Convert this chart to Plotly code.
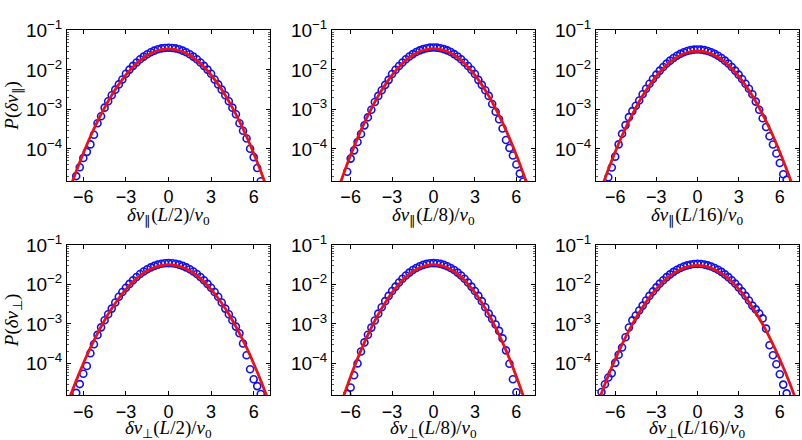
import plotly.graph_objects as go

# ---------------- data ----------------
x_bins = [-7.0, -6.75, -6.5, -6.25, -6.0, -5.75, -5.5, -5.25, -5.0, -4.75, -4.5, -4.25,
          -4.0, -3.75, -3.5, -3.25, -3.0, -2.75, -2.5, -2.25, -2.0, -1.75, -1.5, -1.25,
          -1.0, -0.75, -0.5, -0.25, 0.0, 0.25, 0.5, 0.75, 1.0, 1.25, 1.5, 1.75, 2.0,
          2.25, 2.5, 2.75, 3.0, 3.25, 3.5, 3.75, 4.0, 4.25, 4.5, 4.75, 5.0, 5.25, 5.5,
          5.75, 6.0, 6.25, 6.5]

x_fit = [-7.5, -7.0, -6.5, -6.0, -5.5, -5.0, -4.5, -4.0, -3.5, -3.0, -2.5, -2.0, -1.5,
         -1.0, -0.5, 0.0, 0.5, 1.0, 1.5, 2.0, 2.5, 3.0, 3.5, 4.0, 4.5, 5.0, 5.5, 6.0,
         6.5, 7.0, 7.5]

# P(dv_par), L/2
par_L2_pts = [None, None, 2.05e-5, 3.44e-5, 5.90e-5, 8.43e-5, 1.30e-4, 2.29e-4, 4.45e-4,
              6.71e-4, 1.11e-3, 1.61e-3, 2.29e-3, 3.17e-3, 4.31e-3, 5.73e-3, 7.98e-3,
              1.02e-2, 1.27e-2, 1.55e-2, 1.86e-2, 2.18e-2, 2.50e-2, 2.81e-2, 3.08e-2,
              3.33e-2, 3.51e-2, 3.61e-2, 3.66e-2, 3.61e-2, 3.51e-2, 3.33e-2, 3.08e-2,
              2.81e-2, 2.50e-2, 2.18e-2, 1.86e-2, 1.55e-2, 1.27e-2, 1.02e-2, 7.98e-3,
              5.73e-3, 4.31e-3, 3.17e-3, 2.29e-3, 1.61e-3, 1.11e-3, 7.53e-4, 4.45e-4,
              2.88e-4, 1.83e-4, 1.01e-4, 6.18e-5, 3.28e-5, 1.52e-5]
par_L2_fit = [2.54e-6, 8.63e-6, 2.70e-5, 7.78e-5, 2.06e-4, 4.99e-4, 1.11e-3, 2.29e-3,
              4.31e-3, 7.45e-3, 1.186e-2, 1.73e-2, 2.33e-2, 2.88e-2, 3.27e-2, 3.41e-2,
              3.27e-2, 2.88e-2, 2.33e-2, 1.73e-2, 1.186e-2, 7.45e-3, 4.31e-3, 2.29e-3,
              1.11e-3, 4.99e-4, 2.06e-4, 7.78e-5, 2.70e-5, 8.63e-6, 2.54e-6]

# P(dv_par), L/8
par_L8_pts = [None, None, None, 2.65e-5, 5.68e-5, 9.20e-5, 1.49e-4, 2.38e-4, 3.95e-4,
              6.31e-4, 9.84e-4, 1.54e-3, 2.20e-3, 3.07e-3, 4.19e-3, 5.61e-3, 7.87e-3,
              1.01e-2, 1.26e-2, 1.55e-2, 1.86e-2, 2.19e-2, 2.52e-2, 2.84e-2, 3.13e-2,
              3.37e-2, 3.56e-2, 3.67e-2, 3.72e-2, 3.67e-2, 3.56e-2, 3.37e-2, 3.13e-2,
              2.84e-2, 2.52e-2, 2.19e-2, 1.86e-2, 1.55e-2, 1.26e-2, 1.01e-2, 7.87e-3,
              5.61e-3, 4.19e-3, 3.07e-3, 2.20e-3, 1.37e-3, 8.77e-4, 5.62e-4, 3.29e-4,
              1.68e-4, 1.06e-4, 6.82e-5, 4.02e-5, 2.37e-5, 1.50e-5]
par_L8_fit = [2.12e-6, 7.41e-6, 2.37e-5, 6.98e-5, 1.88e-4, 4.65e-4, 1.05e-3, 2.20e-3,
              4.19e-3, 7.35e-3, 1.18e-2, 1.74e-2, 2.35e-2, 2.92e-2, 3.32e-2, 3.47e-2,
              3.32e-2, 2.92e-2, 2.35e-2, 1.74e-2, 1.18e-2, 7.35e-3, 4.19e-3, 2.20e-3,
              1.05e-3, 4.65e-4, 1.88e-4, 6.98e-5, 2.37e-5, 7.41e-6, 2.12e-6]

# P(dv_par), L/16
par_L16_pts = [None, None, 1.91e-5, 3.37e-5, 6.37e-5, 1.30e-4, 2.41e-4, 4.01e-4, 6.38e-4,
               9.08e-4, 1.24e-3, 1.69e-3, 2.42e-3, 3.33e-3, 4.47e-3, 5.89e-3, 7.60e-3,
               9.62e-3, 1.19e-2, 1.45e-2, 1.72e-2, 2.01e-2, 2.29e-2, 2.56e-2, 2.81e-2,
               3.02e-2, 3.18e-2, 3.28e-2, 3.31e-2, 3.28e-2, 3.18e-2, 3.02e-2, 2.81e-2,
               2.56e-2, 2.29e-2, 2.01e-2, 1.72e-2, 1.45e-2, 1.19e-2, 9.62e-3, 7.60e-3,
               5.89e-3, 4.47e-3, 3.33e-3, 2.42e-3, 1.58e-3, 9.82e-4, 6.00e-4, 3.59e-4,
               2.10e-4, 1.29e-4, 7.64e-5, 4.41e-5, 2.28e-5, 1.66e-5]
par_L16_fit = [3.06e-6, 1.00e-5, 3.02e-5, 8.39e-5, 2.15e-4, 5.07e-4, 1.10e-3, 2.21e-3,
               4.07e-3, 6.93e-3, 1.086e-2, 1.57e-2, 2.09e-2, 2.56e-2, 2.90e-2, 3.02e-2,
               2.90e-2, 2.56e-2, 2.09e-2, 1.57e-2, 1.086e-2, 6.93e-3, 4.07e-3, 2.21e-3,
               1.10e-3, 5.07e-4, 2.15e-4, 8.39e-5, 3.02e-5, 1.00e-5, 3.06e-6]

# P(dv_perp), L/2
perp_L2_pts = [None, None, 1.79e-5, 2.99e-5, 5.47e-5, 8.55e-5, 1.81e-4, 3.05e-4, 5.27e-4,
               8.17e-4, 1.24e-3, 1.76e-3, 2.44e-3, 3.49e-3, 4.89e-3, 6.40e-3, 8.20e-3,
               1.03e-2, 1.28e-2, 1.54e-2, 1.83e-2, 2.12e-2, 2.42e-2, 2.70e-2, 2.95e-2,
               3.17e-2, 3.33e-2, 3.44e-2, 3.47e-2, 3.44e-2, 3.33e-2, 3.17e-2, 2.95e-2,
               2.70e-2, 2.42e-2, 2.12e-2, 1.83e-2, 1.54e-2, 1.28e-2, 1.03e-2, 8.20e-3,
               6.40e-3, 4.89e-3, 3.49e-3, 2.44e-3, 1.76e-3, 1.24e-3, 8.55e-4, 5.78e-4,
               3.19e-4, 1.61e-4, 7.11e-5, 3.96e-5, 2.66e-5, 1.67e-5]
perp_L2_fit = [3.90e-6, 1.24e-5, 3.66e-5, 9.95e-5, 2.50e-4, 5.78e-4, 1.24e-3, 2.44e-3,
               4.46e-3, 7.48e-3, 1.16e-2, 1.67e-2, 2.21e-2, 2.69e-2, 3.04e-2, 3.16e-2,
               3.04e-2, 2.69e-2, 2.21e-2, 1.67e-2, 1.16e-2, 7.48e-3, 4.46e-3, 2.44e-3,
               1.24e-3, 5.78e-4, 2.50e-4, 9.95e-5, 3.66e-5, 1.24e-5, 3.90e-6]

# P(dv_perp), L/8
perp_L8_pts = [None, None, None, 1.68e-5, 2.44e-5, 4.99e-5, 9.98e-5, 2.00e-4, 3.40e-4,
               5.30e-4, 8.05e-4, 1.22e-3, 1.82e-3, 2.65e-3, 3.77e-3, 5.12e-3, 6.79e-3,
               8.81e-3, 1.12e-2, 1.39e-2, 1.68e-2, 1.99e-2, 2.31e-2, 2.61e-2, 2.89e-2,
               3.13e-2, 3.31e-2, 3.43e-2, 3.47e-2, 3.43e-2, 3.31e-2, 3.13e-2, 2.89e-2,
               2.61e-2, 2.31e-2, 1.99e-2, 1.68e-2, 1.39e-2, 1.12e-2, 8.81e-3, 6.79e-3,
               5.12e-3, 3.77e-3, 2.65e-3, 1.82e-3, 1.34e-3, 9.68e-4, 6.67e-4, 4.29e-4,
               2.14e-4, 9.75e-5, 3.96e-5, 1.85e-5, None, None]
perp_L8_fit = [1.18e-6, 4.41e-6, 1.50e-5, 4.65e-5, 1.32e-4, 3.40e-4, 8.05e-4, 1.74e-3,
               3.44e-3, 6.19e-3, 1.02e-2, 1.53e-2, 2.10e-2, 2.64e-2, 3.02e-2, 3.16e-2,
               3.02e-2, 2.64e-2, 2.10e-2, 1.53e-2, 1.02e-2, 6.19e-3, 3.44e-3, 1.74e-3,
               8.05e-4, 3.40e-4, 1.32e-4, 4.65e-5, 1.50e-5, 4.41e-6, 1.18e-6]

# P(dv_perp), L/16
perp_L16_pts = [1.89e-5, 2.97e-5, 4.38e-5, 5.65e-5, 1.03e-4, 1.65e-4, 2.53e-4, 4.58e-4,
                8.13e-4, 1.23e-3, 1.63e-3, 2.18e-3, 2.91e-3, 3.91e-3, 5.14e-3, 6.65e-3,
                8.43e-3, 1.05e-2, 1.28e-2, 1.53e-2, 1.80e-2, 2.08e-2, 2.35e-2, 2.61e-2,
                2.84e-2, 3.04e-2, 3.18e-2, 3.28e-2, 3.31e-2, 3.28e-2, 3.18e-2, 3.04e-2,
                2.84e-2, 2.61e-2, 2.35e-2, 2.08e-2, 1.80e-2, 1.53e-2, 1.28e-2, 1.05e-2,
                8.43e-3, 6.65e-3, 5.14e-3, 3.91e-3, 2.91e-3, 2.33e-3, 1.83e-3, 1.38e-3,
                7.59e-4, 2.89e-4, 1.60e-4, 9.51e-5, 5.30e-5, 2.90e-5, 1.74e-5]
perp_L16_fit = [5.85e-6, 1.76e-5, 4.91e-5, 1.27e-4, 3.04e-4, 6.76e-4, 1.39e-3, 2.65e-3,
                4.69e-3, 7.69e-3, 1.17e-2, 1.64e-2, 2.14e-2, 2.59e-2, 2.91e-2, 3.02e-2,
                2.91e-2, 2.59e-2, 2.14e-2, 1.64e-2, 1.17e-2, 7.69e-3, 4.69e-3, 2.65e-3,
                1.39e-3, 6.76e-4, 3.04e-4, 1.27e-4, 4.91e-5, 1.76e-5, 5.85e-6]

x_tick_vals = [-6, -3, 0, 3, 6]
y_tick_vals = [1e-4, 1e-3, 1e-2, 1e-1]
y_tick_text = ["10<sup>\u22124</sup>", "10<sup>\u22123</sup>",
               "10<sup>\u22122</sup>", "10<sup>\u22121</sup>"]

x_titles = [
    "<i>\u03b4v</i><sub>\u2225</sub>(<i>L</i>/2)/<i>v</i><sub>0</sub>",
    "<i>\u03b4v</i><sub>\u2225</sub>(<i>L</i>/8)/<i>v</i><sub>0</sub>",
    "<i>\u03b4v</i><sub>\u2225</sub>(<i>L</i>/16)/<i>v</i><sub>0</sub>",
    "<i>\u03b4v</i><sub>\u22a5</sub>(<i>L</i>/2)/<i>v</i><sub>0</sub>",
    "<i>\u03b4v</i><sub>\u22a5</sub>(<i>L</i>/8)/<i>v</i><sub>0</sub>",
    "<i>\u03b4v</i><sub>\u22a5</sub>(<i>L</i>/16)/<i>v</i><sub>0</sub>",
]
y_titles = ["<i>P</i>(<i>\u03b4v</i><sub>\u2225</sub>)",
            "<i>P</i>(<i>\u03b4v</i><sub>\u22a5</sub>)"]

# ---------------- layout / styling ----------------
W, H = 802, 440
col_px = [(67, 270), (332, 535), (596, 799)]
row_px = [(18, 173), (239, 394)]
title_off = [36, 35]
x_ranges = [[-7.15, 7.15], [-7.35, 7.35], [-7.4, 7.4],
            [-7.15, 7.15], [-7.35, 7.35], [-7.4, 7.4]]
y_range = [-4.81, -1.0]
minor_vals = [m * 10.0 ** e for e in range(-5, -1) for m in range(2, 10)]

pts_list = [par_L2_pts, par_L8_pts, par_L16_pts, perp_L2_pts, perp_L8_pts, perp_L16_pts]
fit_list = [par_L2_fit, par_L8_fit, par_L16_fit, perp_L2_fit, perp_L8_fit, perp_L16_fit]

BLUE = "#1010f0"
RED = "#f01010"
sans = "Liberation Sans, Arial, sans-serif"
serif = "Liberation Serif, Times New Roman, serif"

fig = go.Figure()
layout = {}
annotations = []
for i in range(6):
    r, c = divmod(i, 3)
    sfx = "" if i == 0 else str(i + 1)
    xa, ya = "x" + sfx, "y" + sfx
    fig.add_trace(go.Scatter(
        x=x_bins, y=pts_list[i], mode="markers", xaxis=xa, yaxis=ya,
        marker=dict(symbol="circle-open", size=7, color=BLUE,
                    line=dict(width=1.6, color=BLUE)),
        showlegend=False, hoverinfo="skip"))
    fig.add_trace(go.Scatter(
        x=x_fit, y=fit_list[i], mode="lines", xaxis=xa, yaxis=ya,
        line=dict(color=RED, width=2.8, shape="spline"),
        showlegend=False, hoverinfo="skip"))
    x0, x1 = col_px[c]
    y0, y1 = row_px[r]
    layout["xaxis" + sfx] = dict(
        domain=[x0 / W, x1 / W], anchor=ya, range=x_ranges[i],
        tickmode="array", tickvals=x_tick_vals, ticks="inside", ticklen=4,
        tickcolor="black", showline=True, linecolor="black", linewidth=1,
        mirror="ticks", showgrid=False, zeroline=False, ticklabelstandoff=0,
        tickfont=dict(family=sans, size=18, color="black"))
    layout["yaxis" + sfx] = dict(
        domain=[1 - y1 / H, 1 - y0 / H], anchor=xa, type="log", range=y_range,
        tickmode="array", tickvals=y_tick_vals, ticktext=y_tick_text,
        ticks="inside", ticklen=4, tickcolor="black", showline=True,
        linecolor="black", linewidth=1, mirror="ticks", showgrid=False,
        zeroline=False, tickfont=dict(family=sans, size=19, color="black"),
        minor=dict(tickmode="array", tickvals=minor_vals, ticks="inside",
                   ticklen=2, tickcolor="#555555", showgrid=False))
    annotations.append(dict(
        text=x_titles[i], xref="paper", yref="paper",
        x=(x0 + x1) / 2 / W, y=1 - (y1 + title_off[r]) / H, xanchor="center",
        yanchor="middle", showarrow=False,
        font=dict(family=serif, size=19, color="black")))

for r in range(2):
    y0, y1 = row_px[r]
    annotations.append(dict(
        text=y_titles[r], xref="paper", yref="paper", x=13 / W,
        y=1 - (y0 + y1) / 2 / H, xanchor="center", yanchor="middle",
        textangle=-90, showarrow=False,
        font=dict(family=serif, size=19, color="black")))

fig.update_layout(
    width=W, height=H, margin=dict(l=0, r=0, t=0, b=0),
    paper_bgcolor="white", plot_bgcolor="white",
    annotations=annotations, **layout)

fig.write_html("out.html", include_plotlyjs=True,
               config={"displayModeBar": False},
               post_script="document.body.style.margin='0px';"
                           "document.body.style.overflow='hidden';")
